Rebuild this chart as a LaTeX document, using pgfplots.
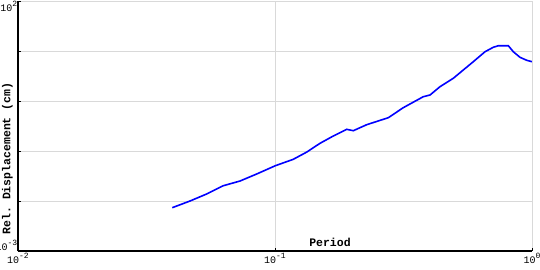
\documentclass[border=0pt]{standalone}
\usepackage{fontspec}
\setmonofont{Liberation Mono}
\usepackage{pgfplots}
\pgfplotsset{compat=1.18}
\definecolor{gridgray}{RGB}{217,217,217}
\newcommand{\tl}[1]{{\fontsize{10}{10}\selectfont\ttfamily 10\raisebox{0.5em}{\fontsize{8}{8}\selectfont#1}}}
\begin{document}
\begin{tikzpicture}
\begin{loglogaxis}[
  at={(0,0)}, anchor=south west,
  scale only axis, width=514pt, height=250pt,
  xmin=0.01, xmax=1, ymin=1e-3, ymax=1e2,
  axis x line*=bottom, axis y line*=left,
  axis line style={-, black, line width=1.2pt},
  xtick={0.01,0.1,1},
  xticklabels={\tl{-2},\tl{-1},\tl{0}},
  ytick={1e-3,1e-2,1e-1,1,10},
  yticklabels={\tl{-3},,,,},
  extra y ticks={100},
  extra y tick labels={\tl{2}},
  extra y tick style={yticklabel style={anchor=north east}},
  yticklabel style={anchor=south east, inner sep=0pt, xshift=-0.5pt},
  xticklabel style={inner sep=2pt},
  xminorticks=false, yminorticks=false,
  tick align=inside, major tick length=3pt,
  tick style={black, line width=0.8pt},
  grid=major, major grid style={gridgray, line width=0.8pt},
  xlabel={Period}, ylabel={Rel. Displacement (cm)},
  label style={font=\fontsize{11.5}{11.5}\selectfont\ttfamily\bfseries},
  xlabel style={at={(axis description cs:0.607,0)}, yshift=5pt, anchor=base, inner sep=0pt},
  ylabel style={at={(axis description cs:-0.0204,0.37)}, anchor=center, inner sep=0pt},
]
\addplot[blue, line width=1.6pt, no marks] coordinates {
(0.03985,0.00735) (0.0467,0.0100) (0.0542,0.0138) (0.0629,0.0202)
(0.0731,0.0251) (0.0849,0.0347) (0.1003,0.0508) (0.1178,0.0682)
(0.1328,0.0950) (0.1497,0.1426) (0.1686,0.1995) (0.1901,0.2716)
(0.2017,0.2547) (0.2274,0.3357) (0.2760,0.4634) (0.3155,0.7345)
(0.3776,1.219) (0.4010,1.318) (0.4385,1.932) (0.4940,2.844)
(0.5910,6.11) (0.6567,9.68) (0.7069,11.86) (0.7397,12.76)
(0.8089,12.76) (0.8457,9.68) (0.8981,7.48) (0.9537,6.52) (1.0,6.11)
};
\end{loglogaxis}
\pgfresetboundingbox
\path (-18pt,-19pt) rectangle (522pt,251pt);
\end{tikzpicture}
\end{document}
